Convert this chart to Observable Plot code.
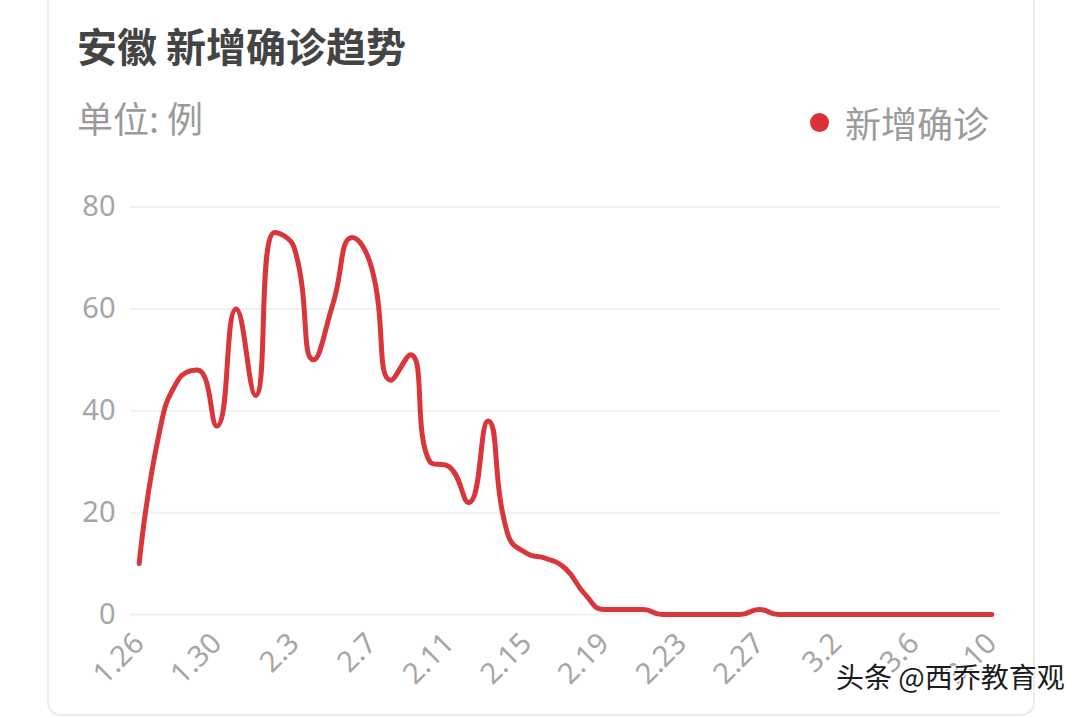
<!DOCTYPE html>
<html>
<head>
<meta charset="utf-8">
<script src="https://cdn.jsdelivr.net/npm/d3@7"></script>
<script src="https://cdn.jsdelivr.net/npm/@observablehq/plot@0.6"></script>
<style>
  html, body { margin: 0; padding: 0; background: #fff; }
  #page { position: relative; width: 1080px; height: 718px; overflow: hidden; background: #fff;
          font-family: "Noto Sans CJK SC", "Noto Sans", sans-serif; }
  #card { position: absolute; left: 47px; top: -30px; width: 988px; height: 746px; box-sizing: border-box;
          border: 2px solid #ececec; border-radius: 14px; }
  #title { position: absolute; left: 77px; top: 25px; font-size: 40px; line-height: 1; font-weight: 700; color: #444; white-space: nowrap; }
  #unit { position: absolute; left: 77px; top: 99px; font-size: 36px; line-height: 1; color: #9b9b9b; white-space: nowrap; }
  #legend { position: absolute; left: 810px; top: 104px; font-size: 36px; line-height: 1; color: #9b9b9b; white-space: nowrap; display: flex; align-items: center; }
  #legend .dot { width: 19px; height: 19px; border-radius: 50%; background: #dc3037; margin-right: 16px; }
  #chart { position: absolute; left: 0; top: 150px; }
  #mark { position: absolute; left: 836px; top: 662px; font-size: 28px; line-height: 1; color: #1c1c1c; white-space: nowrap;
          text-shadow: 0 0 2px #fff, 0 0 2px #fff, 1px 1px 1px #fff, -1px -1px 1px #fff; }
</style>
</head>
<body>
<div id="page">
  <div id="card"></div>
  <div id="title">安徽 新增确诊趋势</div>
  <div id="unit">单位: 例</div>
  <div id="legend"><span class="dot"></span><span>新增确诊</span></div>
  <div id="chart"></div>
  <div id="mark">头条 @西乔教育观</div>
</div>
<script>
// ---- data ----
const dates = [
  "1.26","1.27","1.28","1.29","1.30","1.31",
  "2.1","2.2","2.3","2.4","2.5","2.6","2.7","2.8","2.9","2.10",
  "2.11","2.12","2.13","2.14","2.15","2.16","2.17","2.18","2.19","2.20",
  "2.21","2.22","2.23","2.24","2.25","2.26","2.27","2.28","2.29",
  "3.1","3.2","3.3","3.4","3.5","3.6","3.7","3.8","3.9","3.10"
];
const newCases = [
  10, 35, 46, 48, 37, 60,
  43, 75, 72, 50, 61, 74, 68, 46, 51, 30,
  29, 22, 38, 16, 12, 11, 9, 4, 1, 1,
  1, 0, 0, 0, 0, 0, 1, 0, 0,
  0, 0, 0, 0, 0, 0, 0, 0, 0, 0
];
const xTickLabels = ["1.26","1.30","2.3","2.7","2.11","2.15","2.19","2.23","2.27","3.2","3.6","3.10"];
const yTicks = [0, 20, 40, 60, 80];
const seriesName = "新增确诊";

// ---- smooth curve (echarts-style constrained bezier smoothing) ----
function smoothCurve(context) {
  let pts = [];
  const smooth = 0.5;
  return {
    areaStart() {}, areaEnd() {},
    lineStart() { pts = []; },
    point(x, y) { pts.push([+x, +y]); },
    lineEnd() {
      const n = pts.length;
      if (!n) return;
      let prevX, prevY, cpx1, cpy1;
      for (let i = 0; i < n; i++) {
        const [x, y] = pts[i];
        if (i === 0) { context.moveTo(x, y); cpx1 = x; cpy1 = y; }
        else {
          let cpx0, cpy0, nextCpx0, nextCpy0;
          if (i === n - 1) { cpx0 = x; cpy0 = y; nextCpx0 = x; nextCpy0 = y; }
          else {
            const [nextX, nextY] = pts[i + 1];
            let vx = nextX - prevX, vy = nextY - prevY;
            const dx0 = x - prevX, dx1 = nextX - x, dy0 = y - prevY, dy1 = nextY - y;
            const lenPrev = Math.hypot(dx0, dy0), lenNext = Math.hypot(dx1, dy1);
            const ratio = lenNext / (lenNext + lenPrev);
            nextCpx0 = x + vx * smooth * ratio;
            nextCpy0 = y + vy * smooth * ratio;
            nextCpx0 = Math.min(nextCpx0, Math.max(nextX, x));
            nextCpy0 = Math.min(nextCpy0, Math.max(nextY, y));
            nextCpx0 = Math.max(nextCpx0, Math.min(nextX, x));
            nextCpy0 = Math.max(nextCpy0, Math.min(nextY, y));
            vx = nextCpx0 - x; vy = nextCpy0 - y;
            cpx0 = x - vx * lenPrev / lenNext;
            cpy0 = y - vy * lenPrev / lenNext;
            cpx0 = Math.min(cpx0, Math.max(prevX, x));
            cpy0 = Math.min(cpy0, Math.max(prevY, y));
            cpx0 = Math.max(cpx0, Math.min(prevX, x));
            cpy0 = Math.max(cpy0, Math.min(prevY, y));
            vx = x - cpx0; vy = y - cpy0;
            nextCpx0 = x + vx * lenNext / lenPrev;
            nextCpy0 = y + vy * lenNext / lenPrev;
          }
          context.bezierCurveTo(cpx1, cpy1, cpx0, cpy0, x, y);
          cpx1 = nextCpx0; cpy1 = nextCpy0;
        }
        prevX = x; prevY = y;
      }
    }
  };
}

const data = dates.map((d, i) => ({date: d, value: newCases[i], series: seriesName}));

const chart = Plot.plot({
  width: 1080,
  height: 568,
  marginLeft: 130,
  marginRight: 80,
  marginTop: 56.5,
  marginBottom: 104,
  style: {fontFamily: "'Noto Sans', sans-serif", fontSize: "29px", color: "#a6a6a6", background: "transparent", overflow: "visible"},
  x: {type: "point", domain: dates, padding: 0.45, round: false, ticks: xTickLabels, tickRotate: -45, tickSize: 0, tickPadding: 24, label: null},
  y: {domain: [0, 80], ticks: yTicks, tickSize: 0, tickPadding: 15, label: null},
  marks: [
    Plot.ruleY(yTicks, {stroke: "#f1f1f1", strokeWidth: 2}),
    Plot.line(data, {x: "date", y: "value", stroke: "#d9363c", strokeWidth: 5, strokeLinejoin: "round", curve: smoothCurve})
  ]
});
document.getElementById("chart").appendChild(chart);
</script>
</body>
</html>
